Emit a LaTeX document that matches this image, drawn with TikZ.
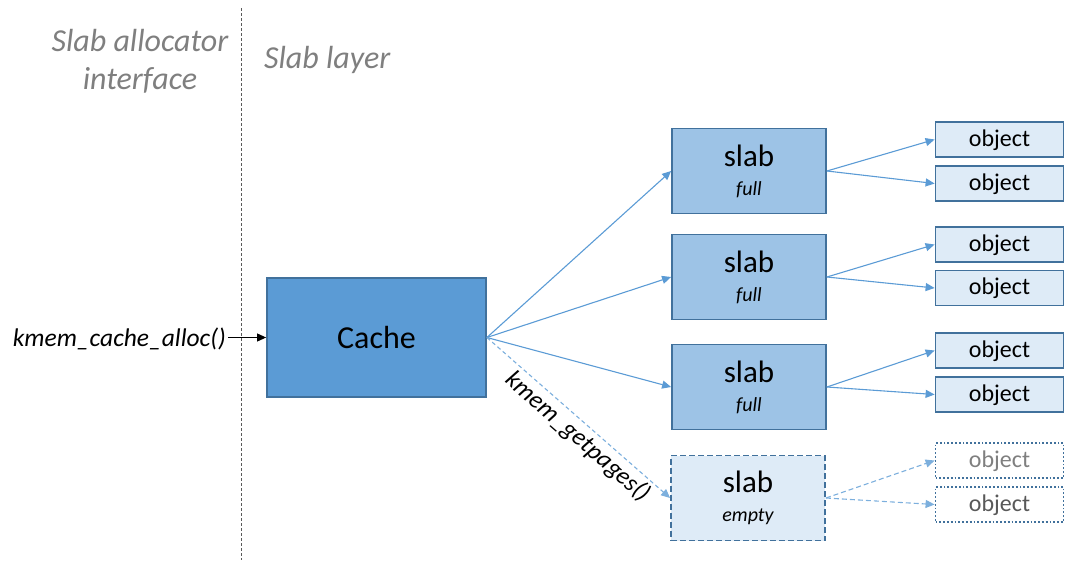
\documentclass[tikz,border=0pt]{standalone}
\usepackage{fontspec}
\setmainfont{Carlito}
\usetikzlibrary{arrows.meta}

\definecolor{cachefill}{HTML}{5B9BD5}
\definecolor{slabfill}{HTML}{9DC3E6}
\definecolor{objfill}{HTML}{DEEBF7}
\definecolor{boxline}{HTML}{41719C}
\definecolor{linkcol}{HTML}{5B9BD5}
\definecolor{notegray}{HTML}{7F7F7F}

\newcommand{\subfont}{\fontsize{20}{20}\selectfont\itshape}

\begin{document}
\begin{tikzpicture}[x=1pt, y=-1pt,
  box/.style={draw=boxline, line width=1.8pt, inner sep=0pt},
  cachebox/.style={box, fill=cachefill, minimum width=219pt, minimum height=119pt,
    font=\fontsize{32}{36}\selectfont},
  slabbox/.style={box, fill=slabfill, minimum width=154pt, minimum height=85pt,
    align=center, font=\fontsize{31}{29}\selectfont},
  objbox/.style={box, fill=objfill, minimum width=128pt, minimum height=35pt,
    text depth=3pt, font=\fontsize{24}{26}\selectfont},
  link/.style={draw=linkcol, line width=1.1pt, -{Triangle[length=9pt,width=8pt]}},
  note/.style={text=notegray, font=\fontsize{32}{38}\selectfont\itshape, align=center}]
  \useasboundingbox (0,0) rectangle (1066,560);

  % the two layers
  \draw[black!65, line width=1pt, dash pattern=on 3pt off 2pt] (241.5,8) -- (241.5,560);
  \node[note] (iface) at (140,61) {Slab allocator\\interface};
  \node[note, anchor=west, inner sep=0pt] (layer) at (264,60) {Slab layer};

  % cache and its caller
  \node[cachebox] (cache) at (376.5,337.5) {Cache};
  \node[anchor=east, inner sep=2pt, font=\fontsize{25.5}{28}\selectfont\itshape] (call)
    at (228,339) {kmem\_cache\_alloc()};
  \draw[line width=1pt, -{Triangle[length=9pt,width=8pt]}] (call.east|-cache.west) -- (cache.west);

  % full slabs, two objects each
  \foreach \i/\y/\ya/\yb in {1/169.5/139.5/183.5, 2/275.5/244.5/288, 3/385.5/350.5/394.5} {
    \node[slabbox] (slab\i) at (749,\y+1.5) {slab\\{\subfont full}};
    \node[objbox] (obj\i-1) at (999.5,\ya) {object};
    \node[objbox] (obj\i-2) at (999.5,\yb) {object};
    \draw[link] (cache.east) -- (slab\i.west);
    \draw[link] (slab\i.east) -- (obj\i-1.west);
    \draw[link] (slab\i.east) -- (obj\i-2.west);
  }

  % empty slab, pages not yet handed out
  \node[slabbox, fill=objfill, dash pattern=on 6pt off 3pt] (slab4) at (748,498)
    {slab\\{\subfont empty}};
  \node[objbox, fill=white, dotted, text=notegray] (obj4-1) at (999.5,460.5) {object};
  \node[objbox, fill=white, dotted, text=black!65] (obj4-2) at (999.5,504.5) {object};
  \draw[link, draw=linkcol!80, dash pattern=on 4pt off 3pt] (cache.east) --
    node[sloped, below, pos=0.55, inner sep=3pt, font=\fontsize{25}{27}\selectfont\itshape]
    (getpages) {kmem\_getpages()} (slab4.west);
  \draw[link, draw=linkcol!80, dash pattern=on 5pt off 3pt] (slab4.east) -- (obj4-1.west);
  \draw[link, draw=linkcol!80, dash pattern=on 5pt off 3pt] (slab4.east) -- (obj4-2.west);
\end{tikzpicture}
\end{document}
